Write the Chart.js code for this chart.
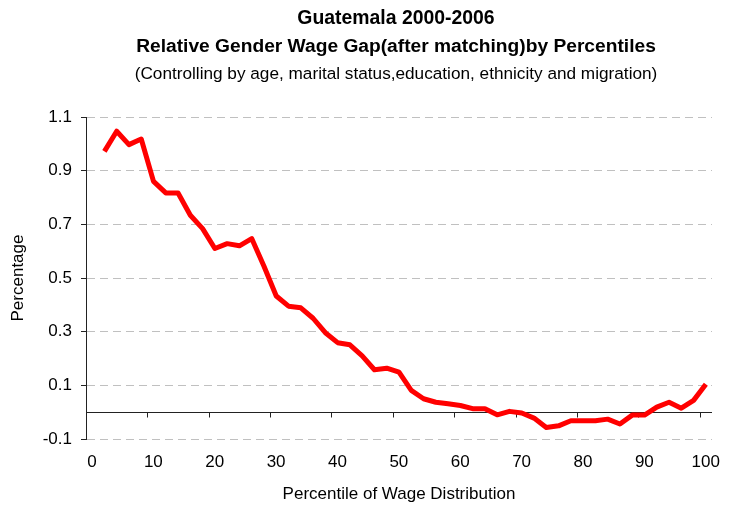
<!DOCTYPE html>
<html>
<head>
<meta charset="utf-8">
<script src="https://cdn.jsdelivr.net/npm/chart.js@4.4.0/dist/chart.umd.min.js"></script>
<style>
  html, body { margin: 0; padding: 0; background: #fff; }
  #wrap { width: 729px; height: 509px; }
</style>
</head>
<body>
<div id="wrap"><canvas id="chart"></canvas></div>
<script>
const titleLines = ["Guatemala 2000-2006", "Relative Gender Wage Gap(after matching)by Percentiles"];
const subtitle = "(Controlling by age, marital status,education, ethnicity and migration)";

const percentiles = [3, 5, 7, 9, 11, 13, 15, 17, 19, 21, 23, 25, 27, 29, 31, 33, 35, 37, 39, 41,
  43, 45, 47, 49, 51, 53, 55, 57, 59, 61, 63, 65, 67, 69, 71, 73, 75, 77, 79, 81,
  83, 85, 87, 89, 91, 93, 95, 97, 99, 101];
const wageGap = [0.972, 1.047, 0.997, 1.018, 0.860, 0.817, 0.817, 0.734, 0.684, 0.610,
  0.628, 0.620, 0.647, 0.544, 0.433, 0.395, 0.389, 0.350, 0.296, 0.259,
  0.251, 0.210, 0.158, 0.164, 0.149, 0.081, 0.050, 0.037, 0.031, 0.025,
  0.013, 0.013, -0.010, 0.003, -0.003, -0.022, -0.057, -0.051, -0.032, -0.032,
  -0.032, -0.026, -0.044, -0.011, -0.011, 0.019, 0.037, 0.015, 0.044, 0.104];

const xTicks = [0, 10, 20, 30, 40, 50, 60, 70, 80, 90, 100];
const yTicks = [-0.1, 0.1, 0.3, 0.5, 0.7, 0.9, 1.1];

const font = "'Liberation Sans', Arial, sans-serif";

// zero line with tick marks, and the three title lines
const extras = {
  id: "extras",
  beforeDatasetsDraw(chart) {
    const {ctx, chartArea, scales} = chart;
    const y0 = Math.round(scales.y.getPixelForValue(0)) + 0.5;
    ctx.save();
    ctx.strokeStyle = "#222";
    ctx.lineWidth = 1;
    ctx.beginPath();
    ctx.moveTo(chartArea.left, y0);
    ctx.lineTo(chartArea.right, y0);
    scales.x.ticks.forEach(t => {
      const x = Math.round(scales.x.getPixelForValue(t.value)) + 0.5;
      ctx.moveTo(x, y0);
      ctx.lineTo(x, y0 + 5);
    });
    ctx.stroke();
    ctx.restore();
  },
  afterDraw(chart) {
    const {ctx, chartArea} = chart;
    const cx = (chartArea.left + chartArea.right) / 2 - 3;
    ctx.save();
    ctx.fillStyle = "#000";
    ctx.textAlign = "center";
    ctx.textBaseline = "middle";
    ctx.font = "bold 19.4px " + font;
    ctx.fillText(titleLines[0], cx, 19);
    ctx.font = "bold 19.2px " + font;
    ctx.fillText(titleLines[1], cx, 47);
    ctx.font = "17.2px " + font;
    ctx.fillText(subtitle, cx, 74);
    ctx.restore();
  }
};

new Chart(document.getElementById("chart"), {
  type: "line",
  data: {
    datasets: [{
      label: "Gap",
      data: percentiles.map((p, i) => ({x: p, y: wageGap[i]})),
      borderColor: "#ff0000",
      borderWidth: 5,
      pointRadius: 0,
      tension: 0,
      borderJoinStyle: "round",
      fill: false
    }]
  },
  options: {
    responsive: true,
    maintainAspectRatio: false,
    animation: false,
    layout: { padding: { left: 0, right: 17, top: 117, bottom: 0 } },
    plugins: {
      legend: { display: false },
      tooltip: { enabled: false },
      title: { display: false }
    },
    scales: {
      x: {
        type: "linear",
        min: 0,
        max: 102,
        afterFit: s => { s.height = 70; },
        afterBuildTicks: s => { s.ticks = xTicks.map(v => ({value: v})); },
        grid: { display: false, drawTicks: false },
        border: { display: false },
        ticks: {
          color: "#000",
          font: { family: font, size: 17 },
          padding: 13,
          labelOffset: 6,
          maxRotation: 0
        },
        title: {
          display: true,
          text: "Percentile of Wage Distribution",
          color: "#000",
          font: { family: font, size: 17 },
          padding: { top: 0, bottom: 4 }
        }
      },
      y: {
        min: -0.1,
        max: 1.1,
        afterFit: s => { s.width = 86; },
        afterBuildTicks: s => { s.ticks = yTicks.map(v => ({value: v})); },
        grid: {
          color: "#c0c0c0",
          lineWidth: 1,
          drawTicks: true,
          tickLength: 5,
          tickColor: "#222",
          tickBorderDash: []
        },
        border: { display: true, color: "#222", width: 1, dash: [8, 5] },
        ticks: {
          color: "#000",
          font: { family: font, size: 17 },
          padding: 9,
          callback: v => String(Math.round(v * 10) / 10)
        },
        title: {
          display: true,
          text: "Percentage",
          color: "#000",
          font: { family: font, size: 17 },
          padding: { top: 8, bottom: 0 }
        }
      }
    }
  },
  plugins: [extras]
});
</script>
</body>
</html>
